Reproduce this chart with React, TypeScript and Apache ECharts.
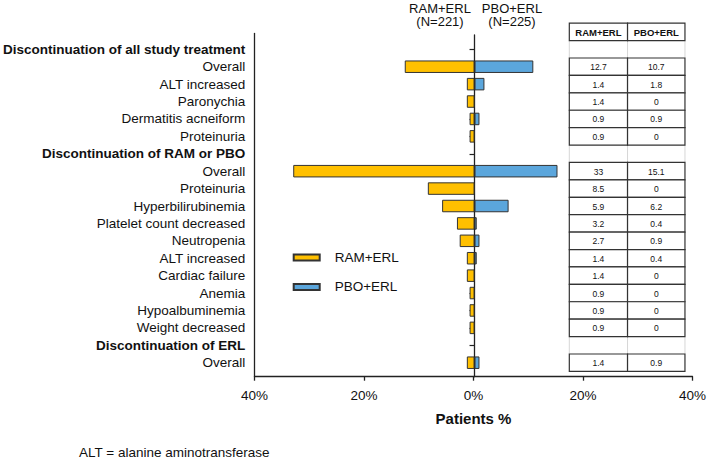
import React, { useEffect, useRef } from "react";
import * as echarts from "echarts";

const categories = [
  "Discontinuation of all study treatment",
  "Overall",
  "ALT increased",
  "Paronychia",
  "Dermatitis acneiform",
  "Proteinuria",
  "Discontinuation of RAM or PBO",
  "Overall",
  "Proteinuria",
  "Hyperbilirubinemia",
  "Platelet count decreased",
  "Neutropenia",
  "ALT increased",
  "Cardiac failure",
  "Anemia",
  "Hypoalbuminemia",
  "Weight decreased",
  "Discontinuation of ERL",
  "Overall",
];
const headerRows = [0, 6, 17];
const ramValues = [null, 12.7, 1.4, 1.4, 0.9, 0.9, null, 33, 8.5, 5.9, 3.2, 2.7, 1.4, 1.4, 0.9, 0.9, 0.9, null, 1.4];
const pboValues = [null, 10.7, 1.8, 0, 0.9, 0, null, 15.1, 0, 6.2, 0.4, 0.9, 0.4, 0, 0, 0, 0, null, 0.9];
const seriesNames = ["RAM+ERL", "PBO+ERL"];
const groupNs = ["(N=221)", "(N=225)"];
const tableHeader = ["RAM+ERL", "PBO+ERL"];
const xMin = -40;
const xMax = 40;
const xInterval = 20;
const xAxisName = "Patients %";
const footnote = "ALT = alanine aminotransferase";

const FONT = "'Liberation Sans', Arial, Helvetica, sans-serif";
const ORANGE = "#FFC000";
const BLUE = "#5BA6DC";
const BORDER = "#333333";
const TABLE_COLS = [17.25, 27.85, 38.3];

const GRID_LEFT = 254.5;
const GRID_RIGHT = 14.7;

export default function App() {
  const ref = useRef<HTMLDivElement>(null);
  useEffect(() => {
    document.body.style.margin = "0";
    if (!ref.current) return;
    const chart = echarts.init(ref.current, null, { renderer: "svg" });

    const toBar = (v: number | null, sign: number) => (v == null || v === 0 ? "-" : sign * v);

    const tableData = categories.map((_, i) => [0, i]);

    const renderItem = (params: any, api: any) => {
      const idx = api.value(1);
      const bandH = api.size([0, 1])[1];
      const cy = api.coord([0, idx])[1];
      const xs = TABLE_COLS.map((c) => api.coord([c, idx])[0]);
      const top = cy - bandH / 2;
      const children: any[] = [];
      const ram = ramValues[idx];
      const pbo = pboValues[idx];
      if (ram == null) {
        xs.forEach((x) => {
          children.push({
            type: "line",
            z2: 1,
            shape: { x1: x, y1: top, x2: x, y2: top + bandH },
            style: { stroke: "#d6d6d6", lineWidth: 1 },
          });
        });
      } else {
        [ram, pbo].forEach((v, k) => {
          children.push({
            type: "rect",
            z2: 5,
            shape: { x: xs[k], y: top, width: xs[k + 1] - xs[k], height: bandH },
            style: { fill: "#ffffff", stroke: BORDER, lineWidth: 1.2 },
          });
          children.push({
            type: "text",
            z2: 6,
            x: (xs[k] + xs[k + 1]) / 2,
            y: cy + 0.5,
            style: {
              text: String(v),
              textAlign: "center",
              textVerticalAlign: "middle",
              align: "center",
              verticalAlign: "middle",
              fontSize: 8.5,
              fontFamily: FONT,
              fill: "#111",
            },
          });
        });
      }
      if (idx === 0) {
        const htop = top - bandH;
        tableHeader.forEach((h, k) => {
          children.push({
            type: "rect",
            z2: 5,
            shape: { x: xs[k], y: htop, width: xs[k + 1] - xs[k], height: bandH },
            style: { fill: "#ffffff", stroke: BORDER, lineWidth: 1.2 },
          });
          children.push({
            type: "text",
            z2: 6,
            x: (xs[k] + xs[k + 1]) / 2,
            y: htop + bandH / 2 + 0.5,
            style: {
              text: h,
              textAlign: "center",
              textVerticalAlign: "middle",
              align: "center",
              verticalAlign: "middle",
              fontSize: 9.5,
              fontWeight: "bold",
              fontFamily: FONT,
              fill: "#111",
            },
          });
        });
      }
      return { type: "group", children };
    };

    const option: any = {
      animation: false,
      textStyle: { fontFamily: FONT },
      grid: [
        { left: GRID_LEFT, right: GRID_RIGHT, top: 40.6, bottom: 89.6 },
        { left: GRID_LEFT, right: GRID_RIGHT, top: 33.5, bottom: 84.3 },
        { left: GRID_LEFT, right: GRID_RIGHT, top: 35, bottom: 84.3 },
      ],
      xAxis: [
        { type: "value", gridIndex: 0, min: xMin, max: xMax, interval: xInterval, show: false },
        {
          type: "value",
          gridIndex: 1,
          min: xMin,
          max: xMax,
          interval: xInterval,
          position: "bottom",
          axisLine: { show: true, onZero: false, lineStyle: { color: "#222", width: 1.3 } },
          axisTick: { show: true, length: 4, lineStyle: { color: "#222", width: 1.3 } },
          splitLine: { show: false },
          axisLabel: {
            formatter: (v: number) => Math.abs(v) + "%",
            fontSize: 13.5,
            color: "#111",
            margin: 11.5,
            fontFamily: FONT,
          },
          name: xAxisName,
          nameLocation: "middle",
          nameGap: 34,
          nameTextStyle: { fontSize: 15, fontWeight: "bold", color: "#111", fontFamily: FONT },
        },
        { type: "value", gridIndex: 2, min: xMin, max: xMax, interval: xInterval, show: false },
      ],
      yAxis: [
        {
          type: "category",
          gridIndex: 0,
          data: categories,
          inverse: true,
          axisLine: { show: false },
          axisTick: { show: true, interval: 0, alignWithLabel: true, length: 5, lineStyle: { color: "#222", width: 1.2 } },
          axisLabel: {
            interval: 0,
            margin: 9.5,
            fontSize: 13.5,
            color: "#111",
            fontFamily: FONT,
            formatter: (v: string, i: number) => (headerRows.includes(i) ? "{b|" + v + "}" : v),
            rich: { b: { fontWeight: "bold", fontSize: 13.5, color: "#111", fontFamily: FONT } },
          },
          splitLine: { show: false },
        },
        {
          type: "value",
          gridIndex: 1,
          min: 0,
          max: 1,
          position: "left",
          axisLine: { show: true, onZero: false, lineStyle: { color: "#222", width: 1.3 } },
          axisTick: { show: false },
          axisLabel: { show: false },
          splitLine: { show: false },
        },
        {
          type: "value",
          gridIndex: 2,
          min: 0,
          max: 1,
          axisLine: { show: true, onZero: true, lineStyle: { color: "#222", width: 1.3 } },
          axisTick: { show: false },
          axisLabel: { show: false },
          splitLine: { show: false },
        },
      ],
      legend: {
        data: seriesNames,
        orient: "vertical",
        left: 292.7,
        top: 249.5,
        padding: 0,
        itemWidth: 26,
        itemHeight: 6,
        itemGap: 13.4,
        icon: "rect",
        textStyle: { fontSize: 13.5, color: "#111", fontFamily: FONT, lineHeight: 16, padding: [0, 0, 0, 10] },
      },
      graphic: [
        ...seriesNames.map((n, k) => ({
          type: "text",
          x: k === 0 ? 440 : 512,
          y: 8,
          style: {
            text: n,
            textAlign: "center",
            textVerticalAlign: "middle",
            fontSize: 13,
            fontFamily: FONT,
            fill: "#111",
          },
        })),
        ...groupNs.map((n, k) => ({
          type: "text",
          x: k === 0 ? 440 : 512,
          y: 21.5,
          style: {
            text: n,
            textAlign: "center",
            textVerticalAlign: "middle",
            fontSize: 13,
            fontFamily: FONT,
            fill: "#111",
          },
        })),
        {
          type: "text",
          x: 79,
          y: 452.3,
          style: {
            text: footnote,
            textAlign: "left",
            textVerticalAlign: "middle",
            fontSize: 13.5,
            fontFamily: FONT,
            fill: "#111",
          },
        },
      ],
      series: [
        {
          name: seriesNames[0],
          type: "bar",
          xAxisIndex: 0,
          yAxisIndex: 0,
          stack: "total",
          barWidth: 12.5,
          data: ramValues.map((v) => toBar(v, -1)),
          itemStyle: { color: ORANGE, borderColor: BORDER, borderWidth: 1 },
        },
        {
          name: seriesNames[1],
          type: "bar",
          xAxisIndex: 0,
          yAxisIndex: 0,
          stack: "total",
          barWidth: 12.5,
          data: pboValues.map((v) => toBar(v, 1)),
          itemStyle: { color: BLUE, borderColor: BORDER, borderWidth: 1 },
        },
        {
          name: "table",
          type: "custom",
          xAxisIndex: 0,
          yAxisIndex: 0,
          clip: false,
          silent: true,
          encode: { x: 0, y: 1 },
          data: tableData,
          renderItem,
          z: 5,
        },
      ],
    };
    chart.setOption(option);
    return () => chart.dispose();
  }, []);
  return <div ref={ref} style={{ width: 709, height: 461 }} />;
}
